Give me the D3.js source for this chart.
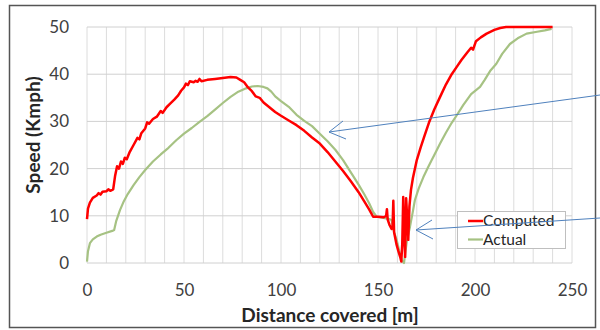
<!DOCTYPE html>
<html><head><meta charset="utf-8">
<script src="https://cdn.jsdelivr.net/npm/d3@7"></script>
<style>body{margin:0;background:#fff}svg{display:block}</style>
</head><body>
<svg id="c" width="600" height="330"></svg>
<script>
const seriesNames = ["Computed", "Actual"];
const xTicks = [0, 50, 100, 150, 200, 250];
const yTicks = [0, 10, 20, 30, 40, 50];
const computedX = [0,0.5,1.5,3,5,6,7,8,10,11,12,13.5,14.5,15.5,16.5,17.5,18.5,19.5,20.5,22,24,26,27,28,30,31,32,34,36,38,39,41,43,45,47,48.5,50,51,52,53,55,56,57,58,59,62,66,70,74,77,79,81,83,85,87,89,91,94,97,100,104,108,112,116,120,124,128,132,136,140,143,145.5,147.5,150,153,154.2,154.6,155,156,157,157.5,157.9,158.3,159.5,160.5,161.5,162,162.5,163,163.5,164,164.5,165,165.6,166.2,167,168,170,172,174,176.5,179,182,185,188,190.5,193,196,198,199,200.5,203,206,210,213,216,240];
const computedY = [9.3,11.5,12.8,13.8,14.3,14.8,14.5,15.1,15.2,15.6,15.3,15.6,18.5,20.5,20.0,21.5,21.0,22.3,22.0,23.5,25,26.5,26.2,27.5,28.5,29.8,29.5,30.5,31,32.2,31.8,33,33.8,34.6,35.5,36.5,37.2,38,37.7,38.5,38.3,38.6,38.4,39.0,38.5,38.8,39.0,39.2,39.4,39.3,38.8,38.3,37.2,36.4,35.3,35.0,34.0,33.0,32.0,31.2,30.2,29.2,28.0,26.6,25.3,23.5,21.5,19.5,17.3,15.0,13.0,11.3,9.8,9.8,9.7,10,11.4,9.2,8.0,7.2,7.5,13.2,6.5,4.0,2.5,1.2,0.3,4,14,6,1.3,13.7,10,4.9,12,15.5,18,21.8,24.5,27,30,32.5,35.2,37.8,40.0,41.5,43,44.6,45.6,45.2,47.0,47.8,48.6,49.4,49.8,50,50];
const actualX = [0,0.5,1.5,3,5,7,10,13,14,15,17,19,21,24,27,30,34,38,42,46,50,54,58,62,66,70,74,78,82,85,88,91,93,95,97,100,104,108,112,116,120,124,128,132,136,140,143,145.5,147.5,149.3,152,155,157,158.3,159.6,161,162.2,163.4,164,165,166.5,168,169,171,173.4,175.5,177.7,180,182,185,188,190.6,194,198,202.6,205,208,211,214,218,222,226.6,232,236,239.5];
const actualY = [0.3,2.5,4.2,5.0,5.6,6.0,6.4,6.8,7.0,8.8,11.2,13.1,14.6,16.5,18.2,19.7,21.5,23.0,24.4,26.0,27.4,28.6,29.9,31.1,32.5,33.9,35.2,36.3,37.0,37.4,37.5,37.3,37.0,36.3,35.3,34.3,33.1,31.4,30.1,29.0,27.4,25.8,24.0,21.8,19.2,16.6,14.5,12.6,10.8,9.8,9.6,9.4,9.1,6.5,4.9,2.5,0.6,0,2,5,7.7,11,13.3,15.8,18.2,20.0,21.8,23.7,25.3,27.6,29.7,31.3,33.5,35.8,37.3,38.8,40.8,42.2,44.3,46.4,47.6,48.6,49.0,49.3,49.6];

const svg = d3.select("#c");
const x = d3.scaleLinear().domain([0, 250]).range([87, 572]);
const y = d3.scaleLinear().domain([0, 50]).range([263, 27]);
const font = "Lato, 'Open Sans', sans-serif";

// frame
svg.append("rect").attr("x", 9.5).attr("y", 5.5).attr("width", 586).attr("height", 322)
  .attr("fill", "none").attr("stroke", "#555").attr("stroke-width", 1.5);

// grid
const g = svg.append("g");
g.selectAll("line.v").data(d3.range(0, 251, 10)).join("line")
  .attr("x1", d => x(d)).attr("x2", d => x(d)).attr("y1", y(50)).attr("y2", y(0))
  .attr("stroke", "#dcdcdc").attr("stroke-width", 1);
g.selectAll("line.h").data(d3.range(0, 51, 10)).join("line")
  .attr("x1", x(0)).attr("x2", x(250)).attr("y1", d => y(d)).attr("y2", d => y(d))
  .attr("stroke", "#d0d0d0").attr("stroke-width", 1);

// axes
const xa = svg.append("g").attr("transform", `translate(0,${y(0)})`)
  .call(d3.axisBottom(x).tickValues(xTicks).tickSize(0).tickPadding(21));
xa.select(".domain").remove();
xa.selectAll("text").attr("font-family", font).attr("font-size", 17).attr("fill", "#404040");
const ya = svg.append("g").attr("transform", `translate(${x(0)},0)`)
  .call(d3.axisLeft(y).tickValues(yTicks).tickSize(0).tickPadding(18));
ya.select(".domain").remove();
ya.selectAll("text").attr("font-family", font).attr("font-size", 17).attr("fill", "#404040");

svg.append("text").attr("x", 330).attr("y", 322).attr("text-anchor", "middle")
  .attr("font-family", font).attr("font-weight", "bold").attr("font-size", 19).attr("fill", "#262626")
  .text("Distance covered [m]");
svg.append("text").attr("transform", "translate(40,135) rotate(-90)").attr("text-anchor", "middle")
  .attr("font-family", font).attr("font-weight", "bold").attr("font-size", 19).attr("fill", "#262626")
  .text("Speed (Kmph)");

// lines
const line = d3.line().x(d => x(d[0])).y(d => y(d[1]));
const actual = actualX.map((v, i) => [v, actualY[i]]);
const computed = computedX.map((v, i) => [v, computedY[i]]);
svg.append("path").attr("d", line(actual)).attr("fill", "none")
  .attr("stroke", "#a6c283").attr("stroke-width", 2.2).attr("stroke-linejoin", "round");
svg.append("path").attr("d", line(computed)).attr("fill", "none")
  .attr("stroke", "#ff0000").attr("stroke-width", 2.5).attr("stroke-linejoin", "round");

// legend
const lg = svg.append("g");
lg.append("rect").attr("x", 457.5).attr("y", 211.5).attr("width", 108).attr("height", 37)
  .attr("fill", "#fff").attr("stroke", "#bfbfbf");
const colors = ["#ff0000", "#a6c283"];
seriesNames.forEach((n, i) => {
  const yy = 221 + i * 18.5;
  lg.append("line").attr("x1", 468).attr("x2", 483).attr("y1", yy).attr("y2", yy)
    .attr("stroke", colors[i]).attr("stroke-width", i === 0 ? 2.5 : 2.2);
  lg.append("text").attr("x", 483).attr("y", yy).attr("dy", "0.35em")
    .attr("font-family", font).attr("font-size", 15.5).attr("fill", "#262626").text(n);
});

// annotation arrows
const arrows = [
  {x1: 600, y1: 95, x2: 329, y2: 132, a1: [343, 121], a2: [346, 139]},
  {x1: 600, y1: 218, x2: 416, y2: 230, a1: [432, 220], a2: [433, 239]}
];
arrows.forEach(a => {
  svg.append("line").attr("x1", a.x1).attr("y1", a.y1).attr("x2", a.x2).attr("y2", a.y2)
    .attr("stroke", "#4f81bd").attr("stroke-width", 1);
  svg.append("polyline").attr("points", `${a.a1[0]},${a.a1[1]} ${a.x2},${a.y2} ${a.a2[0]},${a.a2[1]}`)
    .attr("fill", "none").attr("stroke", "#4f81bd").attr("stroke-width", 1);
});
</script>
</body></html>
